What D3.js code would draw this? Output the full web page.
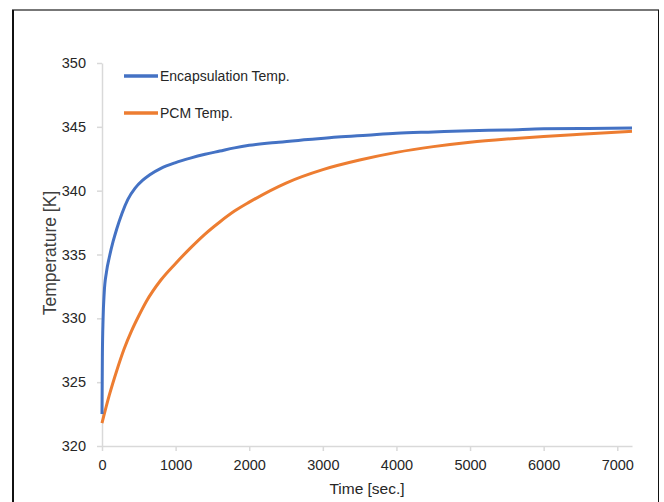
<!DOCTYPE html>
<html><head><meta charset="utf-8">
<script src="https://cdn.jsdelivr.net/npm/d3@7"></script>
<style>body{margin:0;background:#fff}svg{display:block}</style>
</head><body>
<script>
const timeEnc = [0,5,15,30,60,100,150,200,270,350,450,550,650,800,1000,1200,1400,1600,1800,2000,2400,2800,3200,3600,4000,4500,5000,5500,6000,6500,7200];
const tempEnc = [322.5,327,330,332,333.6,334.8,336.0,337.0,338.2,339.3,340.2,340.8,341.25,341.75,342.2,342.55,342.85,343.1,343.35,343.55,343.8,344.0,344.2,344.35,344.5,344.6,344.7,344.75,344.85,344.87,344.9];
const timePCM = [0,100,200,300,400,500,600,800,1000,1200,1400,1600,1800,2000,2500,3000,3500,4000,4500,5000,5500,6000,6500,7200];
const tempPCM = [321.8,324.0,325.9,327.6,329.0,330.2,331.3,333.0,334.3,335.5,336.6,337.55,338.4,339.1,340.6,341.65,342.4,343.0,343.45,343.8,344.05,344.25,344.42,344.65];
const xTicks = [0,1000,2000,3000,4000,5000,6000,7000];
const yTicks = [320,325,330,335,340,345,350];
const seriesNames = ["Encapsulation Temp.","PCM Temp."];
const colors = ["#4472C4","#ED7D31"];

const W = 664, H = 502;
const svg = d3.select("body").append("svg").attr("width", W).attr("height", H);
const font = "'Liberation Sans',Arial,sans-serif";

// frame
svg.append("line").attr("x1",12).attr("x2",659).attr("y1",10).attr("y2",10).attr("stroke","#777").attr("stroke-width",2);
svg.append("line").attr("x1",13).attr("x2",13).attr("y1",10).attr("y2",H).attr("stroke","#111").attr("stroke-width",2);
svg.append("line").attr("x1",658.5).attr("x2",658.5).attr("y1",10).attr("y2",H).attr("stroke","#111").attr("stroke-width",1);

const x = d3.scaleLinear().domain([0,7200]).range([102,632]);
const y = d3.scaleLinear().domain([320,350]).range([446,63]);

const gx = svg.append("g").attr("transform","translate(0,446)")
  .call(d3.axisBottom(x).tickValues(xTicks).tickFormat(d3.format("d")).tickSize(5).tickPadding(9).tickSizeOuter(0));
const gy = svg.append("g").attr("transform","translate(102,0)")
  .call(d3.axisLeft(y).tickValues(yTicks).tickFormat(d3.format("d")).tickSize(5).tickPadding(11).tickSizeOuter(0));
[gx,gy].forEach(g=>{
  g.select(".domain").attr("stroke","#d9d9d9").attr("stroke-width",1.5);
  g.selectAll(".tick line").attr("stroke","#d9d9d9").attr("stroke-width",1.5);
  g.selectAll("text").attr("font-family",font).attr("font-size",14.5).attr("fill","#262626");
});

const line = d3.line().x(d=>x(d[0])).y(d=>y(d[1])).curve(d3.curveMonotoneX);
const encData = timeEnc.map((t,i)=>[t,tempEnc[i]]);
const pcmData = timePCM.map((t,i)=>[t,tempPCM[i]]);
svg.append("path").datum(pcmData).attr("d",line).attr("fill","none").attr("stroke",colors[1]).attr("stroke-width",3);
svg.append("path").datum(encData).attr("d",line).attr("fill","none").attr("stroke",colors[0]).attr("stroke-width",3);

// legend
seriesNames.forEach((n,i)=>{
  const ly = 76 + i*37;
  svg.append("line").attr("x1",124).attr("x2",158).attr("y1",ly).attr("y2",ly).attr("stroke",colors[i]).attr("stroke-width",3.5);
  svg.append("text").attr("x",160).attr("y",ly+5).attr("font-family",font).attr("font-size",14).attr("fill","#262626").text(n);
});

svg.append("text").attr("transform","translate(56,253) rotate(-90)").attr("text-anchor","middle")
  .attr("font-family",font).attr("font-size",17.5).attr("fill","#404040").text("Temperature [K]");
svg.append("text").attr("x",367).attr("y",494).attr("text-anchor","middle")
  .attr("font-family",font).attr("font-size",15.5).attr("fill","#262626").text("Time [sec.]");
</script>
</body></html>
